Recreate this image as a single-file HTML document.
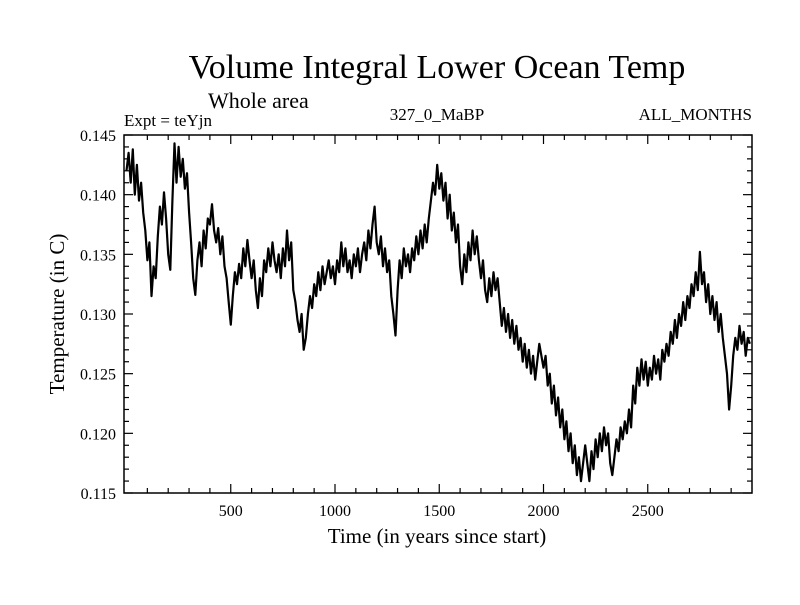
<!DOCTYPE html>
<html><head><meta charset="utf-8"><style>
body{margin:0;background:#fff;}
svg text{font-family:"Liberation Serif",serif;fill:#000;}
</style></head><body>
<svg id="chart" width="800" height="600" xmlns="http://www.w3.org/2000/svg">
<text x="437" y="78" font-size="34" text-anchor="middle">Volume Integral Lower Ocean Temp</text>
<text x="208" y="108" font-size="22">Whole area</text>
<text x="124" y="126" font-size="17">Expt = teYjn</text>
<text x="437" y="120" font-size="17" text-anchor="middle">327_0_MaBP</text>
<text x="752" y="120" font-size="17" text-anchor="end">ALL_MONTHS</text>
<g id="axes"></g>
<path id="series" fill="none" stroke="#000" stroke-width="2.2" stroke-linejoin="round"/>
<rect x="124" y="135" width="628" height="358" fill="none" stroke="#000" stroke-width="1.5"/>
<text x="437" y="543" font-size="21" text-anchor="middle">Time (in years since start)</text>
<text transform="translate(64,314) rotate(-90)" font-size="21" text-anchor="middle">Temperature (in C)</text>
</svg>
<script>
const xTicks=[500,1000,1500,2000,2500];
const yTicks=[0.115,0.120,0.125,0.130,0.135,0.140,0.145];
const yTickLabels=["0.115","0.120","0.125","0.130","0.135","0.140","0.145"];
const startYear=0;
const stepYears=10;
const temps=[
.1420,.1435,.1410,.1438,.1400,.1425,.1395,.1410,.1385,.1370,
.1345,.1360,.1315,.1340,.1330,.1365,.1390,.1375,.1402,.1380,
.1350,.1337,.1395,.1443,.1410,.1440,.1415,.1430,.1405,.1418,
.1385,.1360,.1330,.1316,.1345,.1360,.1340,.1370,.1355,.1380,
.1375,.1392,.1370,.1360,.1372,.1350,.1365,.1340,.1330,.1310,
.1291,.1315,.1335,.1325,.1342,.1330,.1355,.1340,.1362,.1345,
.1330,.1345,.1320,.1305,.1330,.1315,.1345,.1335,.1355,.1340,
.1360,.1345,.1335,.1350,.1330,.1355,.1340,.1370,.1345,.1360,
.1320,.1310,.1295,.1285,.1300,.1270,.1280,.1300,.1315,.1305,
.1325,.1315,.1335,.1320,.1340,.1325,.1335,.1345,.1330,.1340,
.1325,.1345,.1335,.1360,.1340,.1355,.1335,.1345,.1330,.1350,
.1340,.1355,.1335,.1350,.1360,.1345,.1370,.1355,.1375,.1390,
.1360,.1350,.1365,.1340,.1355,.1335,.1345,.1315,.1300,.1282,
.1320,.1345,.1330,.1355,.1340,.1350,.1335,.1355,.1345,.1365,
.1350,.1370,.1355,.1375,.1360,.1380,.1395,.1410,.1400,.1425,
.1405,.1418,.1395,.1410,.1380,.1400,.1370,.1385,.1360,.1375,
.1340,.1325,.1350,.1335,.1360,.1345,.1370,.1350,.1365,.1345,
.1330,.1345,.1320,.1310,.1330,.1315,.1335,.1320,.1330,.1310,
.1290,.1305,.1285,.1300,.1280,.1295,.1275,.1290,.1270,.1280,
.1260,.1275,.1255,.1270,.1250,.1265,.1245,.1260,.1275,.1265,
.1255,.1265,.1240,.1250,.1225,.1240,.1215,.1230,.1205,.1220,
.1195,.1210,.1185,.1200,.1175,.1190,.1165,.1180,.1160,.1175,
.1190,.1175,.1160,.1185,.1170,.1195,.1180,.1200,.1185,.1205,
.1190,.1200,.1175,.1165,.1180,.1195,.1185,.1205,.1195,.1210,
.1200,.1220,.1205,.1240,.1225,.1255,.1240,.1262,.1245,.1260,
.1240,.1255,.1245,.1265,.1250,.1262,.1245,.1270,.1260,.1275,
.1265,.1285,.1275,.1295,.1280,.1300,.1290,.1310,.1295,.1315,
.1305,.1325,.1315,.1335,.1320,.1352,.1325,.1335,.1310,.1325,
.1300,.1315,.1295,.1310,.1285,.1300,.1280,.1265,.1250,.1220,
.1240,.1265,.1280,.1270,.1290,.1275,.1285,.1265,.1280,.1275];
const L=124,R=752,T=135,B=493,X0=-12,X1=3000,Y0=0.115,Y1=0.145;
const sx=v=>L+(v-X0)/(X1-X0)*(R-L);
const sy=v=>B-(v-Y0)/(Y1-Y0)*(B-T);
const NS="http://www.w3.org/2000/svg";
const ax=document.getElementById('axes');
function ln(x1,y1,x2,y2,name){const l=document.createElementNS(NS,'line');
l.setAttribute('x1',x1);l.setAttribute('y1',y1);l.setAttribute('x2',x2);l.setAttribute('y2',y2);
l.setAttribute('stroke','#000');l.setAttribute('stroke-width','1.2');


ax.appendChild(l);}
function tx(x,y,s,anchor,name){const t=document.createElementNS(NS,'text');
t.setAttribute('x',x);t.setAttribute('y',y);t.setAttribute('font-size','16');t.setAttribute('text-anchor',anchor);t.textContent=s;


ax.appendChild(t);}
for(let v=100;v<=2900;v+=100){const x=sx(v);const major=v%500===0;const len=major?9:5;
ln(x,B,x,B-len,'x-tick');ln(x,T,x,T+len,'x-tick-top');}
xTicks.forEach(v=>tx(sx(v),516,String(v),'middle','x-tick-label'));
for(let i=0;i<=30;i++){const v=Y0+i*0.001;const y=sy(v);const major=i%5===0;const len=major?9:5;
ln(L,y,L+len,y,'y-tick');ln(R,y,R-len,y,'y-tick-right');}
yTicks.forEach((v,i)=>tx(116,sy(v)+6,yTickLabels[i],'end','y-tick-label'));
let d='';temps.forEach((v,i)=>{const x=sx(startYear+i*stepYears);d+=(i?'L':'M')+x.toFixed(1)+','+sy(v).toFixed(1);});
document.getElementById('series').setAttribute('d',d);
</script>
</body></html>
